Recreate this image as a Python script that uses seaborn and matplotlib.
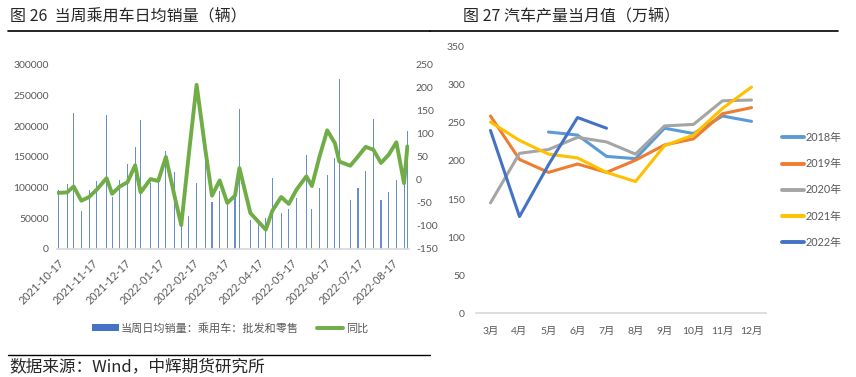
import seaborn as sns
import matplotlib.pyplot as plt
import matplotlib.dates as mdates
import matplotlib.transforms as mtransforms
from matplotlib.lines import Line2D
from matplotlib.patches import Patch
import numpy as np
import pandas as pd

# 图26 当周乘用车日均销量
week_dates = ["2021-10-17", "2021-10-25", "2021-10-31", "2021-11-07", "2021-11-14", "2021-11-21",
              "2021-11-30", "2021-12-05", "2021-12-12", "2021-12-19", "2021-12-26", "2021-12-31",
              "2022-01-09", "2022-01-16", "2022-01-23", "2022-01-31", "2022-02-06", "2022-02-13",
              "2022-02-20", "2022-02-28", "2022-03-06", "2022-03-13", "2022-03-20", "2022-03-27",
              "2022-03-31", "2022-04-10", "2022-04-17", "2022-04-24", "2022-04-30", "2022-05-08",
              "2022-05-15", "2022-05-22", "2022-05-31", "2022-06-05", "2022-06-12", "2022-06-19",
              "2022-06-26", "2022-06-30", "2022-07-10", "2022-07-17", "2022-07-24", "2022-07-31",
              "2022-08-07", "2022-08-14", "2022-08-21", "2022-08-28", "2022-08-31"]
daily_sales = [96000, 106000, 221000, 62000, 96000, 111000, 218000, 85000, 113000, 138000,
               167000, 211000, 108000, 116000, 160000, 125000, 42000, 54000, 107000, 145000,
               76000, 95000, 75000, 85000, 229000, 47000, 44000, 50000, 115000, 59000,
               65000, 83000, 154000, 65000, 99000, 121000, 149000, 277000, 80000, 100000,
               127000, 212000, 80000, 93000, 113000, 108000, 193000]
yoy = [-28, -27, -14, -45, -37, -21, 4, -30, -14, -5, 32, -27, 2, -2, 50, -36, -98, 58, 207, 65,
       -34, -1, -50, -34, 26, -72, -90, -108, -67, -37, -52, -21, 8, -13, 51, 108, 80, 40, 31, 51,
       72, 66, 37, 55, 82, -7, 73]
tick_dates = ["2021-10-17", "2021-11-17", "2021-12-17", "2022-01-17", "2022-02-17", "2022-03-17",
              "2022-04-17", "2022-05-17", "2022-06-17", "2022-07-17", "2022-08-17"]

# 图27 汽车产量当月值（万辆）
months = ["3月", "4月", "5月", "6月", "7月", "8月", "9月", "10月", "11月", "12月"]
years = ["2018年", "2019年", "2020年", "2021年", "2022年"]
prod_2018 = [np.nan, np.nan, 238, 234, 206, 203, 243, 236, 259, 252]
prod_2019 = [259, 202, 185, 196, 185, 201, 221, 229, 262, 270]
prod_2020 = [145, 210, 215, 231, 225, 209, 246, 248, 279, 280]
prod_2021 = [251, 227, 209, 204, 185, 173, 220, 234, 269, 297]
prod_2022 = [240, 127, 195, 257, 243, np.nan, np.nan, np.nan, np.nan, np.nan]
year_colors = ["#5B9BD5", "#ED7D31", "#A5A5A5", "#FFC000", "#4472C4"]

sns.set_theme(style="white")
plt.rcParams["font.family"] = ["Lato", "Noto Sans CJK SC"]
plt.rcParams["axes.unicode_minus"] = False
tick_color = "#595959"
axis_color = "#D9D9D9"

fig = plt.figure(figsize=(8.56, 3.77), dpi=100)
W, H = 856, 377


def box(x0, y0, x1, y1):
    # pixel box (top-left origin) -> figure fraction rect
    return [x0 / W, 1 - y1 / H, (x1 - x0) / W, (y1 - y0) / H]


# ---------- left chart ----------
ax = fig.add_axes(box(57, 65, 409, 249))
dates = pd.to_datetime(week_dates)
ax.bar(dates, daily_sales, width=1.0, color="#4472C4", alpha=0.8, linewidth=0)
ax.set_ylim(0, 300000)
ax.set_yticks(range(0, 300001, 50000))
start = pd.Timestamp("2021-10-17")
ax.set_xlim(start - pd.Timedelta(days=1.2), start + pd.Timedelta(days=319.5))
ax.set_xticks(pd.to_datetime(tick_dates))
ax.xaxis.set_major_formatter(mdates.DateFormatter("%Y-%m-%d"))
for s in ["top", "left", "right"]:
    ax.spines[s].set_visible(False)
ax.spines["bottom"].set_color(axis_color)
ax.tick_params(axis="y", length=0, pad=6, labelsize=7.5, labelcolor=tick_color)
ax.tick_params(axis="x", length=0, pad=9, labelsize=7.8, labelcolor=tick_color)
offset = mtransforms.ScaledTranslation(3 / 72, 0, fig.dpi_scale_trans)
for lab in ax.get_xticklabels():
    lab.set_rotation(45)
    lab.set_ha("right")
    lab.set_va("center")
    lab.set_rotation_mode("anchor")
    lab.set_transform(lab.get_transform() + offset)

ax2 = ax.twinx()
sns.lineplot(x=dates, y=yoy, ax=ax2, color="#70AD47", linewidth=2.8)
ax2.set_ylim(-150, 250)
ax2.set_yticks(range(-150, 251, 50))
for s in ["top", "left", "right", "bottom"]:
    ax2.spines[s].set_visible(False)
ax2.tick_params(axis="y", length=0, pad=5, labelsize=7.5, labelcolor=tick_color)
ax2.set_ylabel("")
ax.set_ylabel("")

fig.legend(handles=[Patch(facecolor="#4472C4", edgecolor="none"),
                    Line2D([], [], color="#70AD47", linewidth=2.8)],
           labels=["当周日均销量：乘用车：批发和零售", "同比"],
           loc="center", bbox_to_anchor=(230 / W, 1 - 328 / H), ncol=2, frameon=False,
           fontsize=8, handlelength=2.4, handleheight=0.5, handletextpad=0.2, columnspacing=1.6,
           labelcolor=tick_color)

# ---------- right chart ----------
bx = fig.add_axes(box(476, 46.7, 766, 313.3))
prod = pd.DataFrame({"pos": np.tile(np.arange(len(months)), len(years)),
                     "year": np.repeat(years, len(months)),
                     "value": np.concatenate([prod_2018, prod_2019, prod_2020, prod_2021, prod_2022])})
prod = prod.dropna()
sns.lineplot(data=prod, x="pos", y="value", hue="year", hue_order=years, palette=year_colors,
             linewidth=2.2, ax=bx, legend=False, sort=False)
bx.set_xlim(-0.5, len(months) - 0.5)
bx.set_ylim(0, 350)
bx.set_yticks(range(0, 351, 50))
bx.set_xticks(range(len(months)))
bx.set_xticklabels(months)
bx.set_xlabel("")
bx.set_ylabel("")
for s in ["top", "left", "right"]:
    bx.spines[s].set_visible(False)
bx.spines["bottom"].set_color(axis_color)
bx.tick_params(axis="y", length=0, pad=8, labelsize=7.5, labelcolor=tick_color)
bx.tick_params(axis="x", length=0, pad=10, labelsize=7.5, labelcolor=tick_color)

bx.legend(handles=[Line2D([], [], color=c, linewidth=2.8) for c in year_colors], labels=years,
          loc="center left", bbox_to_anchor=(782 / W, 1 - 190 / H), bbox_transform=fig.transFigure,
          frameon=False, fontsize=7.8, handlelength=2.0, handletextpad=0.15, labelspacing=1.4,
          borderpad=0, borderaxespad=0, labelcolor=tick_color)

# ---------- titles, rules, source ----------
fig.text(10 / W, 1 - 16 / H, "图 26  当周乘用车日均销量（辆）", fontsize=11.5, va="center", ha="left",
         family=["Noto Sans CJK SC"])
fig.text(463 / W, 1 - 16 / H, "图 27 汽车产量当月值（万辆）", fontsize=11.5, va="center", ha="left",
         family=["Noto Sans CJK SC"])
fig.add_artist(Line2D([8 / W, 430 / W], [1 - 30.5 / H] * 2, transform=fig.transFigure, color="black", lw=1.2))
fig.add_artist(Line2D([430 / W, 838 / W], [1 - 30.5 / H] * 2, transform=fig.transFigure, color="black", lw=1.2))
fig.add_artist(Line2D([8 / W, 430 / W], [1 - 355 / H] * 2, transform=fig.transFigure, color="black", lw=1.0))
fig.text(9 / W, 1 - 367 / H, "数据来源：Wind，中辉期货研究所", fontsize=12, va="center", ha="left",
         family=["Noto Sans CJK SC"])

fig.savefig("out.png", dpi=100)
